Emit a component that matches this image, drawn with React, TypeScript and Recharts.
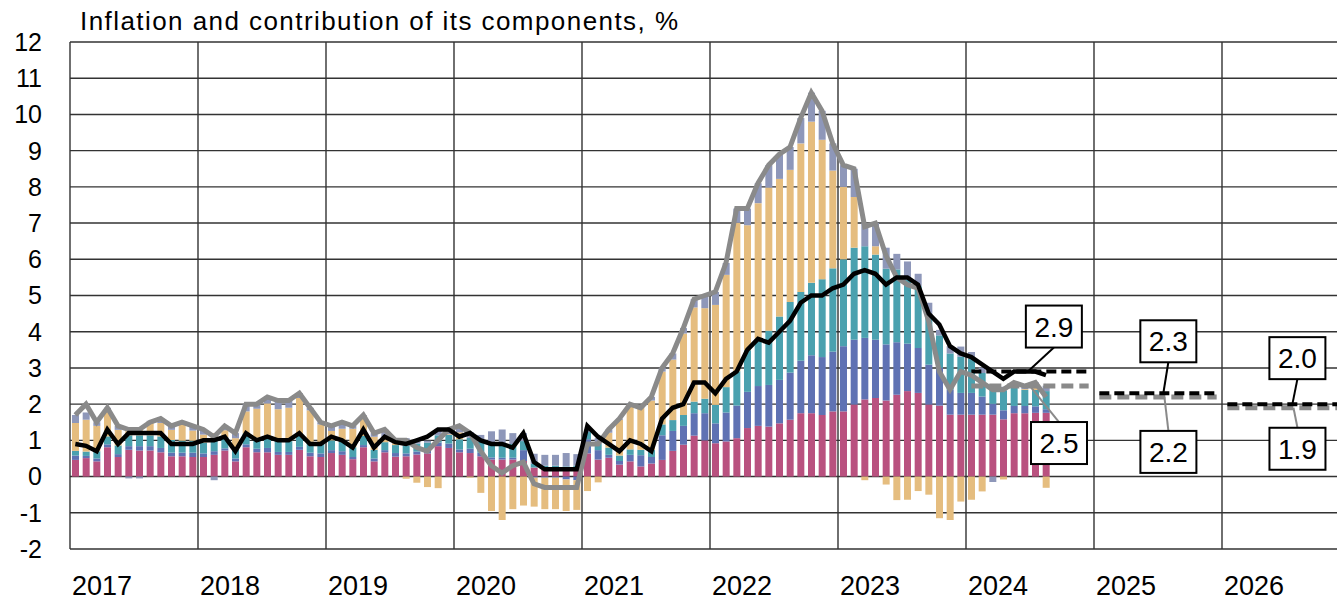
import React from 'react';
import { ComposedChart, Bar, Line, XAxis, YAxis, CartesianGrid, ReferenceDot } from 'recharts';

// monthly, Jan 2017 - Aug 2024, contributions in p.p.
const years = ['2017', '2018', '2019', '2020', '2021', '2022', '2023', '2024', '2025', '2026'];

const services = [
  0.46, 0.51, 0.42, 0.81, 0.54, 0.74, 0.72, 0.72, 0.67, 0.56, 0.56, 0.54,
  0.54, 0.60, 0.72, 0.42, 0.81, 0.67, 0.67, 0.60, 0.60, 0.74, 0.56, 0.54,
  0.65, 0.60, 0.48, 0.81, 0.42, 0.67, 0.55, 0.56, 0.61, 0.64, 0.84, 0.79,
  0.67, 0.65, 0.56, 0.47, 0.47, 0.47, 0.43, 0.25, 0.20, 0.20, 0.18, 0.20,
  0.64, 0.47, 0.52, 0.33, 0.42, 0.28, 0.36, 0.46, 0.71, 0.88, 1.13, 1.00,
  0.92, 0.97, 1.06, 1.34, 1.40, 1.38, 1.47, 1.57, 1.75, 1.75, 1.70, 1.80,
  1.80, 1.99, 2.13, 2.17, 2.10, 2.26, 2.36, 2.31, 1.99, 1.96, 1.71, 1.71,
  1.71, 1.71, 1.71, 1.58, 1.75, 1.75, 1.76, 1.76,
];

const industrialGoods = [
  0.12, 0.06, 0.08, 0.08, 0.08, 0.10, 0.12, 0.12, 0.12, 0.10, 0.10, 0.12,
  0.10, 0.10, 0.06, 0.08, 0.08, 0.10, 0.12, 0.08, 0.08, 0.08, 0.10, 0.10,
  0.08, 0.10, 0.06, 0.06, 0.08, 0.06, 0.10, 0.08, 0.08, 0.08, 0.10, 0.12,
  0.08, 0.12, 0.10, 0.06, 0.05, 0.05, 0.30, -0.03, -0.03, -0.03, -0.08, -0.10,
  0.39, 0.26, 0.08, 0.10, 0.18, 0.31, 0.18, 0.68, 0.55, 0.52, 0.62, 0.75,
  0.55, 0.80, 0.90, 1.00, 1.10, 1.15, 1.20, 1.30, 1.45, 1.60, 1.60, 1.65,
  1.80, 1.79, 1.70, 1.61, 1.55, 1.45, 1.31, 1.24, 1.10, 1.04, 0.69, 0.60,
  0.60, 0.50, 0.30, 0.25, 0.20, 0.20, 0.18, 0.10,
];

const processedFood = [
  0.13, 0.12, 0.20, 0.22, 0.24, 0.30, 0.30, 0.30, 0.32, 0.35, 0.33, 0.33,
  0.30, 0.30, 0.30, 0.30, 0.30, 0.30, 0.30, 0.30, 0.30, 0.30, 0.30, 0.28,
  0.27, 0.27, 0.27, 0.25, 0.24, 0.22, 0.22, 0.22, 0.22, 0.22, 0.20, 0.24,
  0.28, 0.30, 0.30, 0.40, 0.40, 0.38, 0.25, 0.10, 0.10, 0.10, 0.10, 0.10,
  0.20, 0.18, 0.20, 0.15, 0.15, 0.15, 0.20, 0.30, 0.30, 0.30, 0.32, 0.40,
  0.51, 0.70, 0.95, 1.15, 1.30, 1.50, 1.75, 1.95, 1.90, 2.00, 2.15, 2.30,
  2.40, 2.54, 2.53, 2.35, 2.09, 2.01, 1.77, 1.71, 1.34, 0.90, 1.00, 1.00,
  0.95, 0.65, 0.54, 0.55, 0.50, 0.45, 0.45, 0.50,
];

const energy = [
  0.77, 0.88, 0.70, 0.72, 0.43, 0.18, 0.21, 0.38, 0.37, 0.28, 0.45, 0.28,
  0.22, 0.20, 0.20, 0.26, 0.61, 0.80, 0.93, 0.88, 0.92, 1.05, 0.87, 0.52,
  0.26, 0.35, 0.51, 0.56, 0.36, 0.10, 0.05, -0.06, -0.17, -0.29, -0.32, 0.02,
  0.19, -0.03, -0.45, -0.95, -1.20, -0.90, -0.80, -0.80, -0.87, -0.87, -0.87, -0.82,
  -0.40, -0.16, 0.41, 0.99, 1.24, 1.20, 1.36, 1.46, 1.67, 2.25, 2.60, 2.50,
  2.76, 3.10, 4.10, 3.45, 3.75, 3.95, 3.80, 3.65, 4.10, 4.45, 3.85, 2.70,
  2.00, 1.40, -0.10, 0.23, -0.22, -0.65, -0.64, -0.40, -0.50, -1.15, -1.20, -0.69,
  -0.64, -0.41, 0.00, -0.08, 0.03, 0.02, 0.11, -0.31,
];

const unprocessedFood = [
  0.22, 0.20, 0.10, 0.07, 0.11, -0.05, -0.05, 0.02, 0.12, 0.11, 0.06, 0.13,
  0.14, -0.10, 0.12, 0.14, 0.20, 0.13, 0.18, 0.24, 0.20, 0.13, 0.07, 0.06,
  0.14, 0.18, 0.08, 0.02, 0.10, 0.25, 0.08, 0.20, 0.06, 0.05, 0.18, 0.13,
  0.18, 0.16, 0.19, 0.32, 0.38, 0.30, 0.22, 0.28, 0.30, 0.30, 0.37, 0.32,
  0.07, 0.15, 0.09, 0.03, 0.03, 0.02, 0.10, 0.10, 0.17, 0.15, 0.23, 0.35,
  0.36, 0.33, 0.39, 0.46, 0.55, 0.62, 0.68, 0.63, 0.70, 0.80, 0.80, 0.75,
  0.60, 0.78, 0.64, 0.64, 0.58, 0.43, 0.50, 0.34, 0.37, 0.15, 0.20, 0.28,
  0.18, 0.15, -0.15, 0.10, 0.12, 0.08, 0.10, 0.15,
];

const headline = [
  1.7, 2.0, 1.5, 1.9, 1.4, 1.3, 1.3, 1.5, 1.6, 1.4, 1.5, 1.4,
  1.3, 1.1, 1.4, 1.2, 2.0, 2.0, 2.2, 2.1, 2.1, 2.3, 1.9, 1.5,
  1.4, 1.5, 1.4, 1.7, 1.2, 1.3, 1.0, 1.0, 0.8, 0.7, 1.0, 1.3,
  1.4, 1.2, 0.7, 0.3, 0.1, 0.3, 0.4, -0.2, -0.3, -0.3, -0.3, -0.3,
  0.9, 0.9, 1.3, 1.6, 2.0, 1.9, 2.2, 3.0, 3.4, 4.1, 4.9, 5.0,
  5.1, 5.9, 7.4, 7.4, 8.1, 8.6, 8.9, 9.1, 9.9, 10.6, 10.1, 9.2,
  8.6, 8.5, 6.9, 7.0, 6.1, 5.5, 5.3, 5.2, 4.3, 2.9, 2.4, 2.9,
  2.8, 2.6, 2.4, 2.4, 2.6, 2.5, 2.6, 2.2,
];

const core = [
  0.9, 0.85, 0.7, 1.3, 0.9, 1.2, 1.2, 1.2, 1.2, 0.9, 0.9, 0.9,
  1.0, 1.0, 1.1, 0.7, 1.2, 1.0, 1.1, 1.0, 1.0, 1.2, 0.9, 0.9,
  1.1, 1.0, 0.8, 1.3, 0.8, 1.1, 0.95, 0.9, 1.0, 1.1, 1.3, 1.3,
  1.1, 1.2, 1.0, 0.9, 0.9, 0.8, 1.2, 0.4, 0.2, 0.2, 0.2, 0.2,
  1.4, 1.1, 0.9, 0.7, 1.0, 0.9, 0.7, 1.6, 1.9, 2.0, 2.6, 2.6,
  2.3, 2.7, 2.9, 3.5, 3.8, 3.7, 4.0, 4.3, 4.8, 5.0, 5.0, 5.2,
  5.3, 5.6, 5.7, 5.6, 5.3, 5.5, 5.5, 5.3, 4.5, 4.2, 3.6, 3.4,
  3.3, 3.1, 2.9, 2.7, 2.9, 2.9, 2.9, 2.8,
];

// annual projections
const forecastYears = [2024, 2025, 2026];
const coreForecast = [2.9, 2.3, 2.0];
const headlineForecast = [2.5, 2.2, 1.9];

const yTicks = [-2, -1, 0, 1, 2, 3, 4, 5, 6, 7, 8, 9, 10, 11, 12];

const MONTHS = years.length * 12;
const FIRST_YEAR = Number(years[0]);

const rows = Array.from({ length: MONTHS }, (_, i) => {
  const row: Record<string, number> = { x: i + 0.5 };
  if (i < headline.length) {
    row.services = services[i];
    row.goods = industrialGoods[i];
    row.procFood = processedFood[i];
    row.energy = energy[i];
    row.unprocFood = unprocessedFood[i];
    row.headline = headline[i];
    row.core = core[i];
  }
  const f = forecastYears.indexOf(FIRST_YEAR + Math.floor(i / 12));
  if (f >= 0) {
    row['coreF' + f] = coreForecast[f];
    row['headF' + f] = headlineForecast[f];
  }
  return row;
});

const FONT = '"Liberation Sans", Arial, sans-serif';
const GREY = '#8a8a8a';

const YearTick = (props: any) => {
  const { x, y, payload } = props;
  const idx = Math.round(payload.value / 12);
  if (idx >= years.length) return null;
  return (
    <text x={x + 2} y={y + 46} fontSize={27} fontFamily={FONT} fill="#000" textAnchor="start">
      {years[idx]}
    </text>
  );
};

const Callout = (props: any) => {
  const { cx, cy, text, dx, dy, lineColor } = props;
  const w = 56;
  const h = 42;
  const bx = cx + dx - w / 2;
  const by = dy < 0 ? cy + dy - h : cy + dy;
  return (
    <g>
      <line x1={cx} y1={cy} x2={cx + dx} y2={cy + dy} stroke={lineColor} strokeWidth={2} />
      <rect x={bx} y={by} width={w} height={h} fill="#fff" stroke="#000" strokeWidth={2} />
      <text x={bx + w / 2} y={by + h / 2 + 10} textAnchor="middle" fontSize={28} fontFamily={FONT} fill="#000">
        {text}
      </text>
    </g>
  );
};

// where each label's leader line meets its projection line (months into the year) and box offset
const callouts = [
  { f: 0, series: coreForecast, at: 5.8, dx: 26, dy: -24, color: '#000' },
  { f: 0, series: headlineForecast, at: 6.0, dx: 29, dy: 36, color: GREY },
  { f: 1, series: coreForecast, at: 6.5, dx: 5, dy: -31, color: '#000' },
  { f: 1, series: headlineForecast, at: 6.6, dx: 4, dy: 34, color: GREY },
  { f: 2, series: coreForecast, at: 6.6, dx: 5, dy: -25, color: '#000' },
  { f: 2, series: headlineForecast, at: 6.7, dx: 4, dy: 20, color: GREY },
];

export default function App() {
  const xTicks = Array.from({ length: years.length + 1 }, (_, i) => i * 12);
  return (
    <div style={{ position: 'fixed', left: 0, top: 0, width: 1337, height: 601, overflow: 'hidden', background: '#fff' }}>
      <svg width={700} height={40} style={{ position: 'absolute', left: 0, top: 0 }}>
        <text x={80} y={30} fontSize={26} fontFamily={FONT} fill="#000" textLength={598}>
          Inflation and contribution of its components, %
        </text>
      </svg>
      <ComposedChart
        width={1360}
        height={601}
        data={rows}
        stackOffset="sign"
        margin={{ top: 42, right: 10, left: 0, bottom: 0 }}
      >
        <CartesianGrid stroke="#333" strokeWidth={1.4} />
        <XAxis
          type="number"
          dataKey="x"
          domain={[0, MONTHS]}
          ticks={xTicks}
          interval={0}
          height={52}
          axisLine={false}
          tickLine={false}
          tickSize={0}
          tickMargin={0}
          tick={<YearTick />}
        />
        <YAxis
          domain={[-2, 12]}
          ticks={yTicks}
          interval={0}
          width={70}
          axisLine={false}
          tickLine={false}
          tickSize={0}
          tickMargin={28}
          tick={{ fontSize: 25, fill: '#000', fontFamily: FONT }}
        />
        <Bar dataKey="services" stackId="a" fill="#b9517f" barSize={7} isAnimationActive={false} />
        <Bar dataKey="goods" stackId="a" fill="#5f72b3" barSize={7} isAnimationActive={false} />
        <Bar dataKey="procFood" stackId="a" fill="#4aa1af" barSize={7} isAnimationActive={false} />
        <Bar dataKey="energy" stackId="a" fill="#e5bd7f" barSize={7} isAnimationActive={false} />
        <Bar dataKey="unprocFood" stackId="a" fill="#8e97b9" barSize={7} isAnimationActive={false} />
        {forecastYears.map((_, f) => (
          <Line
            key={'h' + f}
            dataKey={'headF' + f}
            stroke={GREY}
            strokeWidth={5}
            strokeDasharray="12 6"
            dot={false}
            isAnimationActive={false}
          />
        ))}
        {forecastYears.map((_, f) => (
          <Line
            key={'c' + f}
            dataKey={'coreF' + f}
            stroke="#000"
            strokeWidth={4}
            strokeDasharray="10 5"
            dot={false}
            isAnimationActive={false}
          />
        ))}
        <Line dataKey="headline" stroke={GREY} strokeWidth={5} dot={false} isAnimationActive={false} />
        <Line dataKey="core" stroke="#000" strokeWidth={4.5} dot={false} isAnimationActive={false} />
        {callouts.map((c, k) => (
          <ReferenceDot
            key={k}
            x={(forecastYears[c.f] - FIRST_YEAR) * 12 + c.at}
            y={c.series[c.f]}
            r={0}
            shape={(p: any) => (
              <Callout cx={p.cx} cy={p.cy} text={c.series[c.f].toFixed(1)} dx={c.dx} dy={c.dy} lineColor={c.color} />
            )}
          />
        ))}
      </ComposedChart>
    </div>
  );
}
